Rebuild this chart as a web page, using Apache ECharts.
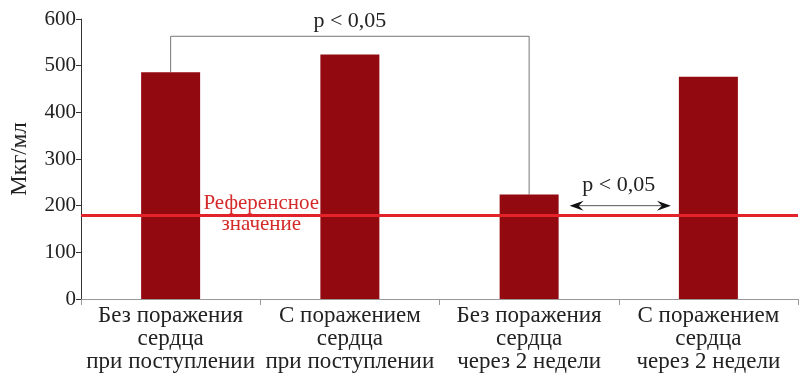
<!DOCTYPE html>
<html><head><meta charset="utf-8">
<script src="https://cdn.jsdelivr.net/npm/echarts@6/dist/echarts.min.js"></script>
<style>html,body{margin:0;padding:0;background:#fff}#c{width:800px;height:382px}</style>
</head><body><div id="c"></div>
<script>
const categories = ['Без поражения\nсердца\nпри поступлении','С поражением\nсердца\nпри поступлении','Без поражения\nсердца\nчерез 2 недели','С поражением\nсердца\nчерез 2 недели'];
const values = [486, 524, 224, 476];
const refValue = 180;
const refLabelLines = ['Референсное', 'значение'];
const yName = 'Мкг/мл';
const sigText = 'p < 0,05';
const bracketLevel = 563;
const arrowLevel = 200;

const FONT = 'Liberation Serif';
const chart = echarts.init(document.getElementById('c'), null, {renderer:'canvas'});
chart.setOption({
  animation:false,
  grid:{left:77,right:2,top:19,bottom:83},
  xAxis:{type:'category',data:categories,
    axisLine:{lineStyle:{color:'#999',width:1}},
    axisTick:{show:true,length:6,lineStyle:{color:'#999'}},
    axisLabel:{interval:0,fontFamily:FONT,fontSize:23,color:'#222',lineHeight:23,margin:5}},
  yAxis:{type:'value',min:0,max:600,interval:100,
    name:yName,nameLocation:'middle',nameGap:50,nameRotate:90,
    nameTextStyle:{fontFamily:FONT,fontSize:23,color:'#222'},
    axisLine:{show:true,lineStyle:{color:'#333',width:1}},
    axisTick:{show:true,inside:false,length:5,lineStyle:{color:'#333'}},
    splitLine:{show:false},
    axisLabel:{fontFamily:FONT,fontSize:21,color:'#222',margin:5}},
  series:[{type:'bar',data:values,barWidth:59,
    itemStyle:{color:'#930910'},
    markLine:{symbol:'none',silent:true,label:{show:false},
      lineStyle:{color:'#e3232a',width:3,type:'solid'},
      data:[{yAxis:refValue}]}}]
});

function px(c, v){ return chart.convertToPixel({xAxisIndex:0,yAxisIndex:0},[c,v]); }
const b0 = px(0, values[0]), b2 = px(2, values[2]);
const top0 = px(0, bracketLevel), top2 = px(2, bracketLevel);
const a0 = px(2, arrowLevel), a1 = px(3, arrowLevel);
const half = 29.5;
const refP = px(0, refValue);
const midX = (px(0,0)[0] + px(1,0)[0]) / 2;
chart.setOption({graphic:[
  {type:'polyline',shape:{points:[[b0[0],b0[1]],[top0[0],top0[1]],[top2[0],top2[1]],[b2[0],b2[1]]]},
   style:{stroke:'#777',lineWidth:1,fill:null}},
  {type:'text',x:(top0[0]+top2[0])/2,y:top0[1]-4,style:{text:sigText,fontFamily:FONT,fontSize:22,fill:'#222',align:'center',verticalAlign:'bottom'}},
  {type:'line',shape:{x1:a0[0]+half+13,y1:a0[1],x2:a1[0]-half-10,y2:a1[1]},style:{stroke:'#555',lineWidth:1}},
  {type:'polygon',shape:{points:[[a0[0]+half+11,a0[1]],[a0[0]+half+25,a0[1]-5],[a0[0]+half+20,a0[1]],[a0[0]+half+25,a0[1]+5]]},style:{fill:'#111'}},
  {type:'polygon',shape:{points:[[a1[0]-half-8,a1[1]],[a1[0]-half-22,a1[1]-5],[a1[0]-half-17,a1[1]],[a1[0]-half-22,a1[1]+5]]},style:{fill:'#111'}},
  {type:'text',x:(a0[0]+a1[0])/2,y:a0[1]-9,style:{text:sigText,fontFamily:FONT,fontSize:22,fill:'#222',align:'center',verticalAlign:'bottom'}},
  {type:'text',x:midX+1,y:refP[1]-12,style:{text:refLabelLines[0],fontFamily:FONT,fontSize:21,fill:'#d42a2a',align:'center',verticalAlign:'middle'}},
  {type:'text',x:midX+1,y:refP[1]+9,style:{text:refLabelLines[1],fontFamily:FONT,fontSize:21,fill:'#d42a2a',align:'center',verticalAlign:'middle'}}
]});
</script></body></html>
